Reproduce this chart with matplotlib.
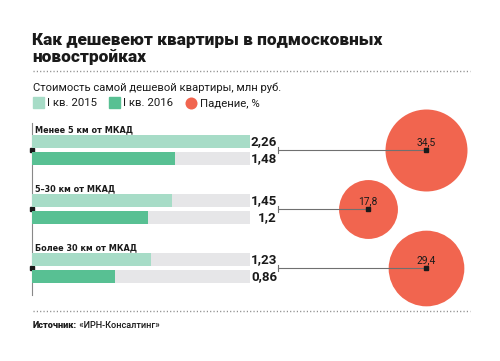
import matplotlib.pyplot as plt
from matplotlib.patches import Rectangle

plt.rcParams['font.family'] = ['Roboto', 'DejaVu Sans']

# data
groups = ['Менее 5 км от МКАД', '5–30 км от МКАД', 'Более 30 км от МКАД']
q1_2015 = [2.26, 1.45, 1.23]
q1_2016 = [1.48, 1.20, 0.86]
drop_pct = [34.5, 17.8, 29.4]

series_labels = ['I кв. 2015', 'I кв. 2016', 'Падение, %']
title_lines = ['Как дешевеют квартиры в подмосковных', 'новостройках']
subtitle = 'Стоимость самой дешевой квартиры, млн руб.'

# style / layout (pixels)
c_light = '#a7dcc7'
c_dark = '#58c093'
c_grey = '#e6e6e8'
c_red = '#f1654f'
c_text = '#1a1a1a'
group_y = [150, 209, 268]
circle_x = [426, 368, 426]
bar_h = 13
off = 8.5

fig = plt.figure(figsize=(5, 3.61), dpi=100)

# overlay axes in pixel coords
ov = fig.add_axes([0, 0, 1, 1])
ov.set_xlim(0, 500)
ov.set_ylim(361, 0)
ov.axis('off')

# bar axes: x in data units
ax = fig.add_axes([32 / 500, 0, 218 / 500, 1])
vmax = max(q1_2015 + q1_2016)
ax.set_xlim(0, vmax)
ax.set_ylim(361, 0)
ax.axis('off')

ov.text(32, 39.5, title_lines[0], fontsize=12.4, fontweight='black',
        color=c_text, va='center')
ov.text(32, 56.5, title_lines[1], fontsize=12.4, fontweight='black',
        color=c_text, va='center')
ov.plot([33, 470], [71, 71], color='#888888', lw=1, ls=(0, (0.8, 1.6)))
ov.text(33, 88, subtitle, fontsize=8.1, color=c_text, va='center')

# legend
ov.add_patch(Rectangle((33, 97), 11, 11, color=c_light))
ov.text(47, 103, series_labels[0], fontsize=8.2, color=c_text, va='center')
ov.add_patch(Rectangle((109, 97), 11, 11, color=c_dark))
ov.text(123, 103, series_labels[1], fontsize=8.2, color=c_text, va='center')
ov.scatter([191], [103], s=75, color=c_red, lw=0)
ov.text(200, 103, series_labels[2], fontsize=8.2, color=c_text, va='center')

# axis line
ov.plot([32, 32], [123, 295], color='#888888', lw=0.8)

for i, g in enumerate(group_y):
    ax.barh(g - off, vmax, height=bar_h, color=c_grey, lw=0)
    ax.barh(g + off, vmax, height=bar_h, color=c_grey, lw=0)
    ax.barh(g - off, q1_2015[i], height=bar_h, color=c_light, lw=0)
    ax.barh(g + off, q1_2016[i], height=bar_h, color=c_dark, lw=0)
    ax.text(0.03, g - 20, groups[i], fontsize=5.9, fontweight='bold',
            family='DejaVu Sans', color=c_text, va='center')
    for v, y in [(q1_2015[i], g - off), (q1_2016[i], g + off)]:
        ov.text(277, y, f'{v:g}'.replace('.', ','), fontsize=9.6,
                fontweight='bold', color=c_text, ha='right', va='center')

    # circles
    ov.scatter([circle_x[i]], [g], s=drop_pct[i] * 101, color=c_red, lw=0,
               zorder=2)
    ov.plot([278, circle_x[i]], [g, g], color='#707070', lw=0.8, zorder=3)
    ov.plot([278, 278], [g - 3, g + 3], color='#707070', lw=0.8, zorder=3)
    ov.plot([circle_x[i]], [g], marker='s', ms=2.5, color=c_text, zorder=4)
    ov.plot([32], [g], marker='s', ms=2.5, color=c_text, zorder=4)
    ov.text(circle_x[i], g - 8, f'{drop_pct[i]:g}'.replace('.', ','),
            fontsize=7.4, color=c_text, ha='center', va='center', zorder=5)

ov.plot([33, 470], [311, 311], color='#888888', lw=1, ls=(0, (0.8, 1.6)))
t = ov.text(33, 325, 'Источник:', fontsize=6.6, fontweight='black',
            color=c_text, va='center')
ov.annotate(' «ИРН-Консалтинг»', xycoords=t, xy=(1, 0.5), va='center',
            fontsize=6.6, fontweight='medium', color=c_text)

fig.savefig('out.png', dpi=100)
